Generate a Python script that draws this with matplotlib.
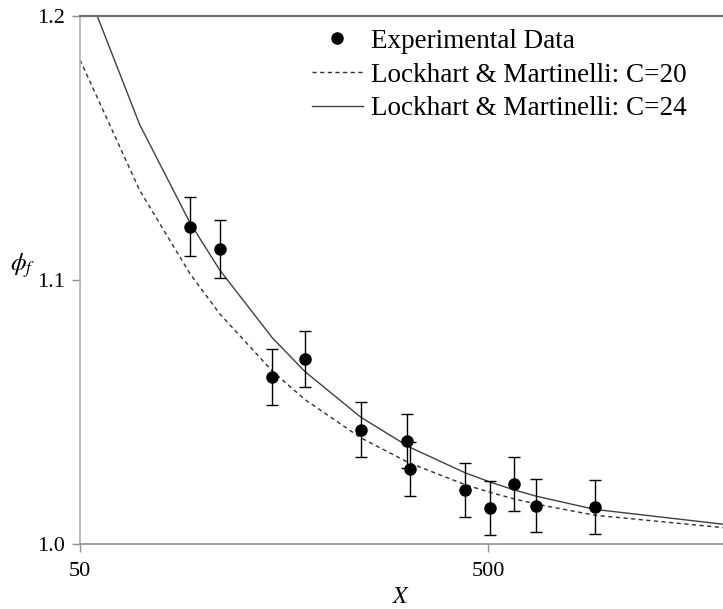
import matplotlib
matplotlib.use('Agg')
import matplotlib.pyplot as plt
from matplotlib.lines import Line2D
import numpy as np

plt.rcParams['font.family'] = ['Liberation Serif', 'DejaVu Serif']
plt.rcParams['mathtext.fontset'] = 'stix'

# experimental points
x_exp = [93, 110, 148, 178, 244, 317, 322, 439, 505, 579, 657, 914]
phi_exp = [1.1202, 1.1117, 1.0631, 1.0700, 1.0432, 1.0390, 1.0284, 1.0205, 1.0136, 1.0228, 1.0145, 1.0140]
phi_err = [0.0112, 0.0111, 0.0106, 0.0107, 0.0104, 0.0104, 0.0103, 0.0102, 0.0101, 0.0102, 0.0101, 0.0101]

# Lockhart & Martinelli curves, read at the kinks of the plotted lines
x_lm = [50, 70, 93, 110, 148, 178, 244, 317, 322, 439, 505, 579, 657, 914, 1883]
phi_c20 = [1.1834, 1.1340, 1.1024, 1.0872, 1.0655, 1.0547, 1.0402, 1.0311, 1.0306, 1.0225, 1.0196, 1.0171, 1.0151, 1.0109, 1.0062]
phi_c24 = [1.2167, 1.1589, 1.1217, 1.1038, 1.0781, 1.0653, 1.0480, 1.0372, 1.0366, 1.0270, 1.0235, 1.0205, 1.0181, 1.0131, 1.0075]

fig = plt.figure(figsize=(7.23, 6.09), dpi=100)
ax = fig.add_axes([80/723, 1-544/609, 1-80/723, (544-16)/609])

l20, = ax.plot(x_lm, phi_c20, linestyle=(0, (3, 2.5)), color='#303030', linewidth=1.0)
l24, = ax.plot(x_lm, phi_c24, linestyle='-', color='#404040', linewidth=1.0)
ax.errorbar(x_exp, phi_exp, yerr=phi_err, fmt='o', color='black', markersize=8,
            elinewidth=1.0, capsize=4, capthick=1.0, zorder=5)

ax.set_xscale('log')
ax.set_xlim(50, 1883)
ax.set_ylim(1.0, 1.2)
ax.set_xticks([50, 500])
ax.set_xticklabels(['50', '500'])
ax.xaxis.set_minor_locator(matplotlib.ticker.NullLocator())
ax.set_yticks([1.0, 1.1, 1.2])
ax.set_yticklabels(['1.0', '1.1', '1.2'])
ax.tick_params(axis='both', labelsize=16, length=6, width=1, color='#909090', pad=5)
ax.tick_params(axis='x', pad=7)

ax.spines['right'].set_visible(False)
ax.spines['left'].set_color('#b0b0b0')
ax.spines['bottom'].set_color('#909090')
ax.spines['top'].set_color('#707070')
ax.spines['top'].set_linewidth(1.6)
ax.spines['left'].set_linewidth(1.2)
ax.spines['bottom'].set_linewidth(1.2)

ax.set_xlabel('$X$', fontsize=17, labelpad=4)
ax.set_ylabel('$\\phi_f$', fontsize=18, rotation=0, labelpad=4)
ax.yaxis.set_label_coords(-0.09, 0.5)

dot = Line2D([], [], marker='o', linestyle='none', color='black', markersize=8)
leg = ax.legend([dot, l20, l24],
                ['Experimental Data', 'Lockhart & Martinelli: C=20', 'Lockhart & Martinelli: C=24'],
                loc='upper left', bbox_to_anchor=(0.332, 1.012), frameon=False,
                fontsize=19.5, handlelength=1.85, handletextpad=0.3, labelspacing=0.33,
                borderaxespad=0.3)

fig.savefig('out.png', dpi=100)
